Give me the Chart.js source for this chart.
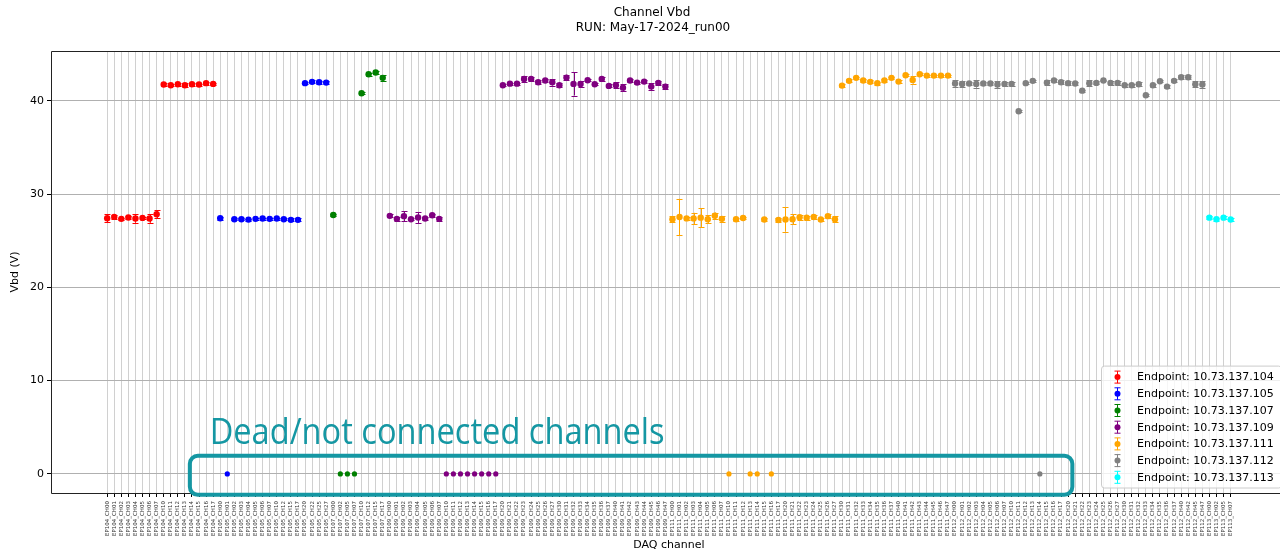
<!DOCTYPE html>
<html>
<head>
<meta charset="utf-8">
<script src="https://cdn.jsdelivr.net/npm/chart.js@4.4.1/dist/chart.umd.min.js"></script>
<style>
  html, body { margin: 0; padding: 0; background: #fff; overflow: hidden; }
  #wrap { width: 1290px; height: 552px; }
</style>
</head>
<body>
<div id="wrap"><canvas id="vbd" width="1290" height="552"></canvas></div>
<script>
// ---- Channel lists per endpoint (DAQ channel names) ----
const fullChannels = ['CH00','CH01','CH02','CH03','CH04','CH05','CH06','CH07',
                      'CH10','CH11','CH12','CH13','CH14','CH15','CH16','CH17',
                      'CH20','CH21','CH22','CH23','CH24','CH25','CH26','CH27',
                      'CH30','CH31','CH32','CH33','CH34','CH35','CH36','CH37',
                      'CH40','CH41','CH42','CH43','CH44','CH45','CH46','CH47'];
const ep104Channels = ['CH00','CH01','CH02','CH03','CH04','CH05','CH06','CH07',
                       'CH10','CH11','CH12','CH13','CH14','CH15','CH16','CH17'];
const ep105Channels = ['CH00','CH01','CH02','CH03','CH04','CH05','CH06','CH07',
                       'CH10','CH12','CH15','CH17','CH20','CH22','CH25','CH27'];
const ep107Channels = ['CH00','CH02','CH05','CH07','CH10','CH12','CH15','CH17'];
const ep109Channels = fullChannels;
const ep111Channels = fullChannels;
const ep112Channels = fullChannels.slice(0, 32).concat(['CH40','CH42','CH45','CH47']);
const ep113Channels = ['CH00','CH02','CH05','CH07'];

// ---- Breakdown voltage (V) and its uncertainty per channel ----
const ep104Vbd = [27.42, 27.56, 27.35, 27.49, 27.38, 27.45, 27.38, 27.85,
                  41.75, 41.68, 41.79, 41.68, 41.79, 41.75, 41.90, 41.82];
const ep104Err = [0.45, 0.2, 0.1, 0.15, 0.45, 0.15, 0.45, 0.4,
                  0.2, 0.1, 0.15, 0.2, 0.15, 0.1, 0.15, 0.1];

const ep105Vbd = [27.42, 0, 27.31, 27.31, 27.27, 27.35, 27.38, 27.35,
                  27.38, 27.31, 27.24, 27.24, 41.90, 42.04, 42.00, 41.96];
const ep105Err = [0.15, 0, 0.1, 0.1, 0.1, 0.1, 0.1, 0.1,
                  0.1, 0.1, 0.15, 0.15, 0.1, 0.15, 0.15, 0.2];

const ep107Vbd = [27.77, 0, 0, 0, 40.82, 42.86, 43.04, 42.47];
const ep107Err = [0.15, 0, 0, 0, 0.1, 0.15, 0.15, 0.3];

const ep109Vbd = [27.67, 27.35, 27.64, 27.31, 27.49, 27.38, 27.74, 27.35,
                  0, 0, 0, 0, 0, 0, 0, 0,
                  41.68, 41.85, 41.85, 42.36, 42.36, 42.00, 42.18, 42.00,
                  41.68, 42.50, 41.82, 41.82, 42.22, 41.79, 42.36, 41.61,
                  41.68, 41.42, 42.18, 41.96, 42.07, 41.53, 41.93, 41.53];
const ep109Err = [0.15, 0.25, 0.55, 0.1, 0.6, 0.2, 0.15, 0.2,
                  0, 0, 0, 0, 0, 0, 0, 0,
                  0.1, 0.1, 0.1, 0.3, 0.2, 0.2, 0.2, 0.35,
                  0.2, 0.3, 1.25, 0.3, 0.1, 0.1, 0.25, 0.15,
                  0.3, 0.35, 0.2, 0.1, 0.15, 0.35, 0.2, 0.3];

const ep111Vbd = [27.31, 27.55, 27.40, 27.40, 27.48, 27.31, 27.68, 27.35,
                  0, 27.31, 27.44, 0, 0, 27.28, 0, 27.23,
                  27.28, 27.31, 27.52, 27.48, 27.55, 27.28, 27.64, 27.31,
                  41.64, 42.15, 42.47, 42.18, 42.04, 41.90, 42.18, 42.47,
                  42.07, 42.75, 42.25, 42.86, 42.71, 42.71, 42.71, 42.71];
const ep111Err = [0.3, 1.95, 0.15, 0.6, 1.0, 0.4, 0.35, 0.3,
                  0, 0.15, 0.15, 0, 0, 0.2, 0, 0.2,
                  1.3, 0.55, 0.25, 0.2, 0.25, 0.15, 0.2, 0.35,
                  0.15, 0.15, 0.1, 0.15, 0.15, 0.15, 0.15, 0.1,
                  0.15, 0.1, 0.4, 0.1, 0.1, 0.1, 0.1, 0.1];

const ep112Vbd = [41.86, 41.82, 41.86, 41.82, 41.86, 41.86, 41.75, 41.82,
                  41.82, 38.89, 41.90, 42.15, 0, 41.96, 42.18, 42.00,
                  41.90, 41.86, 41.10, 41.90, 41.93, 42.18, 41.93, 41.93,
                  41.68, 41.68, 41.79, 40.61, 41.68, 42.11, 41.53, 42.15,
                  42.54, 42.54, 41.79, 41.75];
const ep112Err = [0.35, 0.35, 0.2, 0.4, 0.2, 0.2, 0.35, 0.2,
                  0.2, 0.1, 0.1, 0.1, 0, 0.25, 0.15, 0.2,
                  0.2, 0.2, 0.1, 0.3, 0.15, 0.1, 0.2, 0.2,
                  0.15, 0.15, 0.2, 0.1, 0.15, 0.1, 0.15, 0.15,
                  0.2, 0.2, 0.35, 0.35];

const ep113Vbd = [27.48, 27.31, 27.48, 27.28];
const ep113Err = [0.15, 0.15, 0.15, 0.15];

const yTicks = [0, 10, 20, 30, 40];

// ---- Endpoints in plotting order ----
const endpoints = [
  { ip: '10.73.137.104', tag: 'EP104', color: '#ff0000', channels: ep104Channels, vbd: ep104Vbd, err: ep104Err },
  { ip: '10.73.137.105', tag: 'EP105', color: '#0000ff', channels: ep105Channels, vbd: ep105Vbd, err: ep105Err },
  { ip: '10.73.137.107', tag: 'EP107', color: '#008000', channels: ep107Channels, vbd: ep107Vbd, err: ep107Err },
  { ip: '10.73.137.109', tag: 'EP109', color: '#800080', channels: ep109Channels, vbd: ep109Vbd, err: ep109Err },
  { ip: '10.73.137.111', tag: 'EP111', color: '#ffa500', channels: ep111Channels, vbd: ep111Vbd, err: ep111Err },
  { ip: '10.73.137.112', tag: 'EP112', color: '#808080', channels: ep112Channels, vbd: ep112Vbd, err: ep112Err },
  { ip: '10.73.137.113', tag: 'EP113', color: '#00ffff', channels: ep113Channels, vbd: ep113Vbd, err: ep113Err }
];

// Category labels along the x axis, one per DAQ channel
const channelLabels = [];
const datasets = [];
endpoints.forEach(ep => {
  const start = channelLabels.length;
  ep.channels.forEach(ch => channelLabels.push(ep.tag + '_' + ch));
  datasets.push({
    label: 'Endpoint: ' + ep.ip,
    data: ep.vbd.map((v, k) => ({ x: start + k, y: v, err: ep.err[k] })),
    backgroundColor: ep.color,
    borderColor: ep.color,
    borderWidth: 0,
    pointRadius: ctx => (ctx.raw && ctx.raw.y === 0 ? 2.6 : 3.2),
    pointHoverRadius: 3.2,
    showLine: false
  });
});
const nChan = channelLabels.length;
const xPad = (nChan - 1) * 0.05;
const yMin = -2.05, yMax = 45.35;

const FONT = '"DejaVu Sans", sans-serif';
const TEAL = '#1597a3';

// Error bars drawn underneath the markers
const errorBars = {
  id: 'errorBars',
  beforeDatasetsDraw(chart) {
    const ctx = chart.ctx, ys = chart.scales.y;
    ctx.save();
    ctx.lineWidth = 1;
    chart.data.datasets.forEach((ds, i) => {
      const meta = chart.getDatasetMeta(i);
      ctx.strokeStyle = ds.borderColor;
      meta.data.forEach((pt, k) => {
        const d = ds.data[k];
        if (!d.err || d.y === 0) return;
        const x = Math.round(pt.x) + 0.5;
        const y1 = ys.getPixelForValue(d.y + d.err);
        const y2 = ys.getPixelForValue(d.y - d.err);
        ctx.beginPath();
        ctx.moveTo(x, y1); ctx.lineTo(x, y2);
        ctx.moveTo(x - 3, Math.round(y1) + 0.5); ctx.lineTo(x + 3, Math.round(y1) + 0.5);
        ctx.moveTo(x - 3, Math.round(y2) + 0.5); ctx.lineTo(x + 3, Math.round(y2) + 0.5);
        ctx.stroke();
      });
    });
    ctx.restore();
  }
};

// Frame, titles, legend and the dead-channel callout
const decorations = {
  id: 'decorations',
  afterDatasetsDraw(chart) {
    const ctx = chart.ctx, a = chart.chartArea;
    const xs = chart.scales.x, ys = chart.scales.y;
    ctx.save();

    // axes frame
    ctx.strokeStyle = '#222';
    ctx.lineWidth = 1;
    ctx.beginPath();
    ctx.moveTo(a.left + 0.5, a.bottom + 0.5);
    ctx.lineTo(a.left + 0.5, a.top + 0.5);
    ctx.lineTo(a.right - 0.5, a.top + 0.5);
    ctx.lineTo(a.right - 0.5, a.bottom + 0.5);
    ctx.closePath();
    ctx.stroke();

    // callout around the channels reading 0 V
    const bx1 = xs.getPixelForValue(11.7), bx2 = xs.getPixelForValue(136.6);
    const by1 = ys.getPixelForValue(1.95), by2 = ys.getPixelForValue(-2.25);
    ctx.strokeStyle = TEAL;
    ctx.lineWidth = 4;
    ctx.beginPath();
    ctx.roundRect(bx1, by1, bx2 - bx1, by2 - by1, 8);
    ctx.stroke();

    const note = 'Dead/not connected channels';
    ctx.font = '36px "Open Sans", sans-serif';
    ctx.fillStyle = TEAL;
    ctx.textBaseline = 'alphabetic';
    ctx.textAlign = 'left';
    const w = ctx.measureText(note).width;
    const tx = xs.getPixelForValue(14.5), ty = ys.getPixelForValue(3.2);
    ctx.translate(tx, ty);
    ctx.scale(455 / w, 1);
    ctx.fillText(note, 0, 0);
    ctx.setTransform(1, 0, 0, 1, 0, 0);

    // titles
    ctx.fillStyle = '#000';
    ctx.font = '12px ' + FONT;
    ctx.textAlign = 'center';
    ctx.textBaseline = 'middle';
    ctx.fillText('Channel Vbd', 652, 12.5);
    ctx.fillText('RUN: May-17-2024_run00', 653, 28);

    // legend (lower right, inside the axes)
    const rows = chart.data.datasets.length;
    const rowH = 16.7;
    const lx = 1101, lw = a.right - 5.5 - lx;
    const lb = a.bottom - 5.5;
    const lt = lb - (rows * rowH + 5);
    ctx.fillStyle = 'rgba(255,255,255,0.8)';
    ctx.strokeStyle = '#cccccc';
    ctx.lineWidth = 1;
    ctx.beginPath();
    ctx.roundRect(lx + 0.5, lt + 0.5, lw, lb - lt, 3);
    ctx.fill();
    ctx.stroke();
    ctx.font = '11px ' + FONT;
    ctx.textAlign = 'left';
    ctx.textBaseline = 'middle';
    chart.data.datasets.forEach((ds, i) => {
      const cy = lt + 11.5 + i * rowH;
      const cx = lx + 16.5;
      ctx.strokeStyle = ds.borderColor;
      ctx.fillStyle = ds.backgroundColor;
      ctx.lineWidth = 1;
      ctx.beginPath();
      ctx.moveTo(cx, cy - 6); ctx.lineTo(cx, cy + 6);
      ctx.moveTo(cx - 3, cy - 6); ctx.lineTo(cx + 3, cy - 6);
      ctx.moveTo(cx - 3, cy + 6); ctx.lineTo(cx + 3, cy + 6);
      ctx.stroke();
      ctx.beginPath();
      ctx.arc(cx, cy, 3, 0, Math.PI * 2);
      ctx.fill();
      ctx.fillStyle = '#000';
      ctx.fillText(ds.label, lx + 36, cy + 0.5);
    });
    ctx.restore();
  }
};

new Chart(document.getElementById('vbd'), {
  type: 'scatter',
  data: { datasets },
  options: {
    responsive: false,
    devicePixelRatio: 1,
    animation: false,
    layout: { padding: { top: 51, right: 3, left: 0, bottom: 0 } },
    plugins: { legend: { display: false }, title: { display: false }, tooltip: { enabled: false } },
    scales: {
      x: {
        type: 'linear',
        min: -xPad,
        max: nChan - 1 + xPad,
        afterBuildTicks: s => { s.ticks = channelLabels.map((_, i) => ({ value: i })); },
        afterFit: s => { s.height = 59; },
        grid: { color: '#d0d0d0', lineWidth: 1, tickColor: '#000', tickLength: 4 },
        border: { display: false },
        ticks: {
          autoSkip: false, minRotation: 90, maxRotation: 90, padding: 4,
          color: '#333', font: { family: FONT, size: 5.5 },
          callback: v => channelLabels[v]
        },
        title: { display: true, text: 'DAQ channel', color: '#000', font: { family: FONT, size: 11 }, padding: { top: 0, bottom: 0 } }
      },
      y: {
        min: yMin,
        max: yMax,
        afterBuildTicks: s => { s.ticks = yTicks.map(v => ({ value: v })); },
        afterFit: s => { s.width = 51; },
        grid: { color: '#b0b0b0', lineWidth: 1, tickColor: '#000', tickLength: 4 },
        border: { display: false },
        ticks: { color: '#000', padding: 3, font: { family: FONT, size: 11 } },
        title: { display: true, text: 'Vbd (V)', color: '#000', font: { family: FONT, size: 11 }, padding: { top: 9, bottom: 0 } }
      }
    }
  },
  plugins: [errorBars, decorations]
});
</script>
</body>
</html>
